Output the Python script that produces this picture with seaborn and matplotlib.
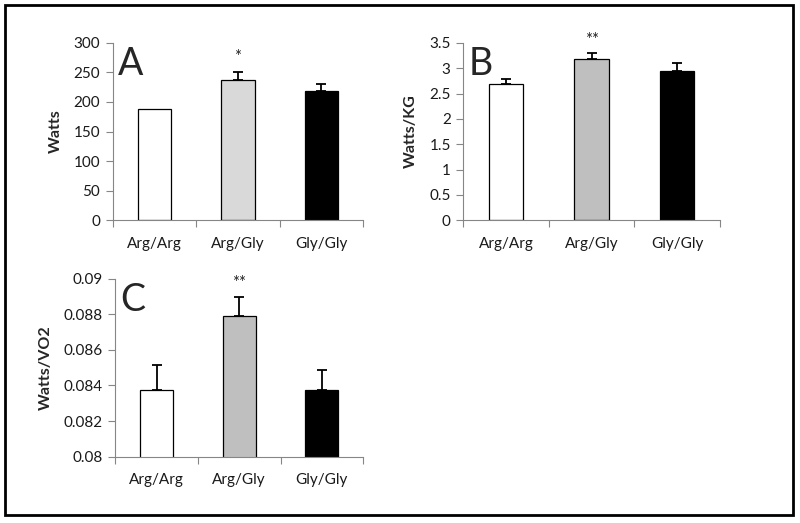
import matplotlib
matplotlib.use("Agg")
import matplotlib.pyplot as plt
from matplotlib.patches import Rectangle
from matplotlib.ticker import FixedLocator
import seaborn as sns

sns.set_style("white")
plt.rcParams['font.family'] = ['Lato', 'DejaVu Sans']

genotypes = ["Arg/Arg", "Arg/Gly", "Gly/Gly"]

# panel A - Watts
watts = [188, 237, 219]
watts_err = [0, 13, 11]
# panel B - Watts/KG
watts_kg = [2.69, 3.18, 2.95]
watts_kg_err = [0.10, 0.12, 0.15]
# panel C - Watts/VO2
watts_vo2 = [0.08375, 0.08788, 0.08375]
watts_vo2_err = [0.00138, 0.00109, 0.00112]

fig = plt.figure(figsize=(8, 5.23), dpi=100)

axA = fig.add_axes([0.141, 0.579, 0.313, 0.339])
axB = fig.add_axes([0.579, 0.579, 0.321, 0.339])
axC = fig.add_axes([0.144, 0.127, 0.310, 0.340])

panels = [
    (axA, watts, watts_err, ["white", "#d9d9d9", "black"], "Watts", (0, 300), 50, "A", "*", 276),
    (axB, watts_kg, watts_kg_err, ["white", "#bfbfbf", "black"], "Watts/KG", (0, 3.5), 0.5, "B", "**", 3.56),
    (axC, watts_vo2, watts_vo2_err, ["white", "#bfbfbf", "black"], "Watts/VO2", (0.08, 0.09), 0.002, "C", "**", 0.08975),
]

for ax, vals, err, cols, ylab, ylim, step, letter, star, star_y in panels:
    sns.barplot(x=genotypes, y=vals, hue=genotypes, palette=cols, legend=False,
                edgecolor="black", linewidth=0.9, width=0.4, ax=ax)
    # upper-only error bars, skip the ones with no error
    idx = [i for i in range(3) if err[i] > 0]
    ax.errorbar(idx, [vals[i] for i in idx], yerr=[[0] * len(idx), [err[i] for i in idx]],
                fmt="none", ecolor="black", elinewidth=1.3, capsize=3.5, capthick=1.3)
    ax.set_xlim(-0.5, 2.5)
    ax.set_ylim(*ylim)
    n = int(round((ylim[1] - ylim[0]) / step))
    ticks = [ylim[0] + i * step for i in range(n + 1)]
    ax.set_yticks(ticks)
    ax.set_yticklabels(["{:g}".format(round(t, 4)) for t in ticks])
    ax.xaxis.set_minor_locator(FixedLocator([-0.5, 0.5, 1.5, 2.5]))
    ax.tick_params(axis="x", which="major", length=0, labelsize=11, pad=12, colors="#1a1a1a")
    ax.tick_params(axis="x", which="minor", length=5, width=0.8, color="#868686", direction="out", bottom=True)
    ax.tick_params(axis="y", length=5, width=0.8, color="#868686", direction="out", left=True,
                   labelsize=11, labelcolor="#1a1a1a", pad=4)
    for s in ["top", "right"]:
        ax.spines[s].set_visible(False)
    for s in ["left", "bottom"]:
        ax.spines[s].set_color("#868686")
        ax.spines[s].set_linewidth(0.8)
    ax.set_xlabel("")
    ax.set_ylabel(ylab, fontsize=11.5, fontweight="bold", labelpad=8)
    ax.text(0.02, 0.82, letter, transform=ax.transAxes, fontsize=27, va="baseline", ha="left")
    ax.text(1, star_y, star, fontsize=12, ha="center", va="center", color="#222222")

fig.patches.append(Rectangle((5 / 800, 8 / 523), 788 / 800, 510 / 523, transform=fig.transFigure,
                             fill=False, edgecolor="black", linewidth=2))

fig.savefig("out.png", dpi=100)
